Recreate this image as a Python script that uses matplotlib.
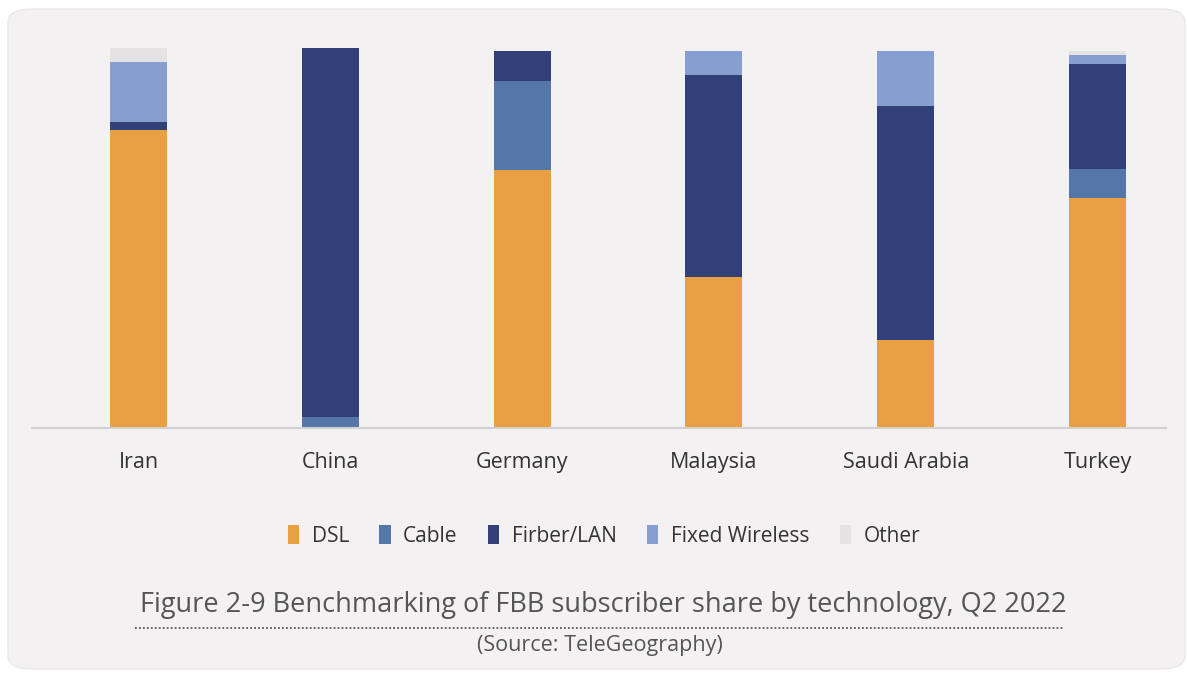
import matplotlib
matplotlib.use("Agg")
import matplotlib.pyplot as plt
from matplotlib.patches import FancyBboxPatch, Patch
from matplotlib.lines import Line2D
import numpy as np

countries = ["Iran", "China", "Germany", "Malaysia", "Saudi Arabia", "Turkey"]
techs = ["DSL", "Cable", "Firber/LAN", "Fixed Wireless", "Other"]

# share in percent
dsl = [78.5, 0.0, 67.8, 39.7, 23.1, 60.4]
cable = [0.0, 2.9, 23.4, 0.0, 0.0, 7.6]
fiber = [2.1, 97.1, 8.0, 53.0, 61.7, 27.8]
wireless = [15.7, 0.0, 0.0, 6.5, 14.4, 2.4]
other = [3.7, 0.0, 0.0, 0.0, 0.0, 1.0]

colors = ["#e9a042", "#5476a9", "#32407a", "#879ed0", "#e5e2e3"]

plt.rcParams["font.family"] = ["Open Sans", "DejaVu Sans"]

fig = plt.figure(figsize=(11.87, 6.75), dpi=100)
fig.patch.set_facecolor("white")

panel = FancyBboxPatch((8 / 1187, 6 / 675), 1177 / 1187, 660 / 675,
                       boxstyle="round,pad=0,rounding_size=0.02",
                       transform=fig.transFigure, facecolor="#f4f1f2",
                       edgecolor="#ebe8e9", linewidth=1, zorder=-5)
fig.patches.append(panel)

ax = fig.add_axes([32 / 1187, 246.7 / 675, 1134 / 1187, 380.6 / 675])
ax.set_facecolor("none")
ax.set_zorder(2)

x = np.arange(len(countries))
bottom = np.zeros(len(countries))
for vals, col, name in zip([dsl, cable, fiber, wireless, other], colors, techs):
    ax.bar(x, vals, width=0.297, bottom=bottom, color=col, label=name, zorder=2)
    bottom += np.array(vals)

ax.set_xlim(-0.555, 5.357)
ax.set_ylim(0, 100)
ax.set_yticks([])
ax.set_xticks(x)
ax.set_xticklabels(countries, fontsize=15.5, color="#333333")
ax.tick_params(axis="x", length=0, pad=17)
for s in ["top", "left", "right"]:
    ax.spines[s].set_visible(False)
ax.spines["bottom"].set_color("#d2d0d1")
ax.spines["bottom"].set_linewidth(1.5)

handles = [Patch(facecolor=c, edgecolor="none") for c in colors]
fig.legend(handles, techs, loc="center", bbox_to_anchor=(604 / 1187, 1 - 536 / 675),
           ncol=5, frameon=False, fontsize=15, labelcolor="#333333",
           handlelength=0.55, handleheight=1.0, handletextpad=0.6, columnspacing=1.45)

fig.text(603 / 1187, 1 - 605 / 675,
         "Figure 2-9 Benchmarking of FBB subscriber share by technology, Q2 2022",
         ha="center", va="center", fontsize=19.5, color="#555555")
fig.add_artist(Line2D([135 / 1187, 1063 / 1187], [1 - 628 / 675, 1 - 628 / 675],
                      transform=fig.transFigure, color="#555555", linewidth=1.3,
                      linestyle=(0, (1, 1.2))))
fig.text(600 / 1187, 1 - 645 / 675, "(Source: TeleGeography)",
         ha="center", va="center", fontsize=15.5, color="#555555")

fig.savefig("out.png", dpi=100, facecolor=fig.get_facecolor())
